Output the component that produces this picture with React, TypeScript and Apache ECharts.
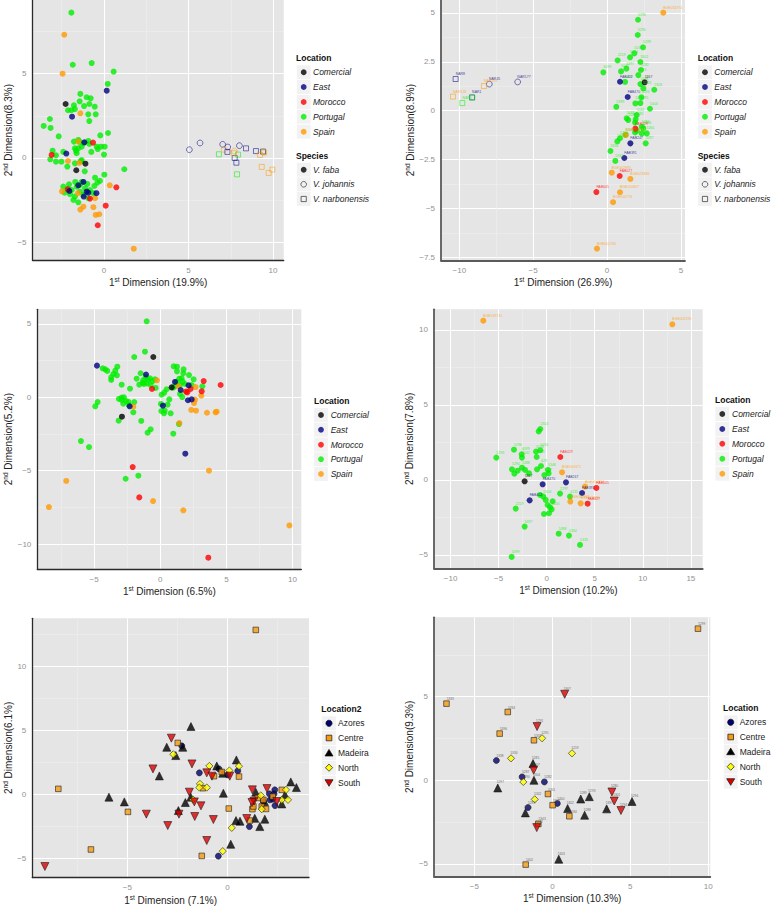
import React, { useEffect, useRef } from "react";
import * as echarts from "echarts";

type P = [number, number, string?];

// Panel A
const aPortugal: P[] = [[-1.93,8.62],[-1.85,5.53],[-0.73,5.63],[0.57,5.12],[0.22,4.39],[-1.4,3.8],[-1.03,3.6],[-0.79,3.54],[-1.44,3.36],[-0.87,3.2],[-1.18,3.08],[-1.78,3.12],[-0.55,3.04],[-1.72,2.9],[-2.13,2.83],[-1.93,2.83],[-0.93,2.59],[-0.49,2.59],[-0.87,2.19],[-3.2,2.31],[-3.57,1.9],[-3.16,1.78],[0.24,1.48],[-0.22,1.34],[-2.68,1.28],[-1.78,0.97],[-1.52,1.07],[-1.46,0.97],[-1.22,0.87],[-0.93,1.01],[-0.87,0.83],[-1.72,0.57],[-1.52,0.57],[-1.62,0.28],[-1.32,0.67],[-1.66,0.43],[-0.43,0.67],[-0.18,0.67],[0.04,0.67],[-0.37,0.53],[-0.75,0.36],[0,0.2],[-3.04,0.43],[-2.41,0.36],[-2.84,0.16],[-3.18,-0.08],[-2.84,-0.22],[-2.52,-0.22],[-2.17,-0.51],[-1.72,-0.32],[-1.32,-0.12],[-1.38,-0.2],[-1.14,-0.79],[1.2,-0.67],[0.02,-0.99],[-0.53,-1.17],[-0.24,-1.36],[-0.39,-1.46],[-0.57,-1.66],[-2.41,-1.7],[-2.07,-1.56],[-1.7,-1.42],[-1.32,-1.42],[-0.99,-1.54],[-2.33,-2.06],[-2.01,-2.15],[-1.72,-2.29],[-1.42,-2],[-1.81,-2.49],[-1.52,-2.63],[-1.12,-1.8],[-0.83,-1.9],[-1.91,-1.9],[-1.62,-1.7],[-1.22,-2.19],[-0.93,-2.39],[-0.63,-2.09],[-1.42,-1.6],[-2.11,-1.8]];
const aEast: P[] = [[0.16,3.99],[-1.89,2.45],[-1.16,0.93],[-2.23,0.26],[-1.52,-1.62],[-1.22,-1.42],[-2.05,-1.96],[-1.03,-2],[-0.93,-2.06],[-0.45,-2.09],[-1.2,-2.29]];
const aComercial: P[] = [[-2.27,3.2],[-1.1,-0.34],[-1.64,-0.73]];
const aMorocco: P[] = [[-0.65,0.91],[-3.1,0.18],[0.73,-1.74],[-2.15,-1.86],[-0.83,-2.41],[0.1,-2.83],[-0.37,-3.99]];
const aSpain: P[] = [[-2.35,7.31],[-2.45,5],[-1.4,2.65],[-1.52,0.97],[-2.13,-0.18],[-1.46,-0.3],[0.34,-1.62],[-2.49,-1.98],[-1.54,-2.09],[-0.53,-2.39],[-0.63,-2.92],[-1.22,-2.89],[-1.4,-3.06],[-0.49,-3.38],[-0.28,-3.34],[1.76,-5.38]];
const aEastJoh: P[] = [[5.05,0.49],[5.68,0.89],[7.02,0.81],[7.32,0.65],[8.01,0.73]];
const aSpainJoh: P[] = [[7.1,0.51],[7.71,0.41]];
const aEastNar: P[] = [[7.3,0.36],[7.73,0],[7.83,-0.28],[8.4,0.57],[8.99,0.41]];
const aComercialNar: P[] = [[9.41,0.38]];
const aPortugalNar: P[] = [[6.8,0.22],[7.93,0.2],[7.87,-0.97]];
const aSpainNar: P[] = [[7.69,0.28],[9.23,0.18],[9.47,0.32],[9.33,-0.53],[9.74,-0.89],[9.96,-0.69]];

// Panel B
const bPortugal: P[] = [[2.1,4.65,"5290"],[2.08,3.87,"5296"],[2.44,3.24,"5289"],[1.85,2.93,"5033"],[1.56,2.73,"5034"],[0.72,2.57,"2219"],[2.26,2.49,"5302"],[1.31,2.15,"5397"],[0.95,2.01,"5047"],[2.3,2.08,"5282"],[2.12,1.82,"5283"],[-0.25,1.96,"4099"],[1.22,1.47,"5292"],[2.26,1.36,"5298"],[2.46,1.14,"5243"],[3.2,1.07,"2303"],[2.33,0.68,"5293"],[1.92,0.37,"5294"],[2.26,0.39,"5295"],[0.63,0.2,"5399"],[2.91,0.1,"5403"],[1.33,-0.39,"5088"],[1.44,-0.48,"5089"],[2.01,-0.22,"5142"],[1.94,-0.44,"5285"],[1.9,-0.61],[2.35,-0.82,"5281"],[2.01,-1.02],[2.35,-1.16],[2.69,-1.16,"5361"],[2.46,-0.9,"5286"],[1.9,-1.11],[2.62,-1.67,"2297"],[1.26,-1.24,"5300"],[0.88,-1.41,"5284"],[0.7,-1.57,"5396"],[0.23,-2.06,"5336"],[0.56,-2.57,"5333"]];
const bEast: P[] = [[0.88,1.48,"FAB402"],[1.4,0.7,"FAB470"],[1.58,-1.67,"FAB247"],[1.17,-2.42,"FAB391"]];
const bComercial: P[] = [[2.55,1.45,"5367"]];
const bMorocco: P[] = [[1.92,-0.92,"FAB429"],[0.86,-3.34,"FAB027"],[-0.72,-4.16,"FAB605"]];
const bSpain: P[] = [[3.81,5.01,"BGE031974"],[1.26,-1.24,"BGE003371"],[0.32,-3.17,"BGE002893"],[1.58,-3.49,"BGE023386"],[0.88,-4.17,"BGE010857"],[0.41,-4.68,"BGE010776"],[-0.68,-7.05,"BGE002190"]];
const bEastJoh: P[] = [[-7.97,1.36,"NAR45"],[-6.05,1.47,"NAR177"]];
const bEastNar: P[] = [[-10.25,1.62,"NAR8"],[-9.14,0.68,"NAR1"]];
const bSpainNar: P[] = [[-8.33,1.26,"NAR193"],[-10.43,0.72,"NAR138"]];
const bPortugalNar: P[] = [[-9.8,0.39,"NAR5"],[-9.12,0.67]];

// Panel C
const cPortugal: P[] = [[-1.03,5.18],[-1.16,3.11],[-1.97,2.75],[-4.36,1.98],[-4.16,1.91],[-4.01,1.8],[-3.25,2.09],[-3.4,1.82],[-3.55,1.59],[-3.28,1.5],[-3.71,1.36],[-3.71,1.18],[-2.92,0.86],[-2.29,0.59],[-2.75,0],[-2.92,-0.02],[-3.13,-0.11],[-2.92,-0.18],[-2.6,-0.25],[-2.42,-0.3],[-1.97,-0.32],[-2.8,-0.43],[-2.37,-0.52],[-4.74,-0.32],[-4.92,-0.61],[-2.04,-1.02],[-3.15,-1.59],[-1.44,-1.61],[-0.73,-2.18],[-0.96,-2.41],[0.98,-2.48],[-6,-2.98],[-5.39,-3.39],[-1.66,-5.34],[-2.62,-5.55],[-1.79,1.27],[-1.49,1.64],[-1.59,0.86],[-1.29,1.18],[-1.11,1.36],[-0.91,1.18],[-0.78,1.3],[-1.03,0.95],[-0.73,0.84],[-1.34,1],[-0.4,1.23],[-0.35,0.64],[-0.58,1.11],[-1.24,0.91],[0.1,0.18],[0.3,0.32],[0.48,0.55],[0.05,-0.45],[0.68,-0.14],[0.55,-0.5],[0.08,-0.93],[0.28,-1.09],[0.78,-1.09],[0.33,-0.91],[1.41,-1.82],[1.01,2.11],[1.26,2.09],[1.76,1.91],[1.26,1.77],[1.74,1.64],[2.17,1.52],[2.52,1.23],[1.44,1.27],[1.61,1.3],[1.24,1.07],[1.69,1.07],[1.49,0.84],[1.87,0.91],[1.11,0.77],[2.37,0.84],[3.18,0.75],[1.49,0.23],[1.66,0.02],[0.98,0.66]];
const cEast: P[] = [[-4.79,2.16],[-1.08,1.55],[1.11,1.05],[1.54,0.5],[2.14,0.82],[2.09,-0.2],[2.37,-0.14],[0.2,-0.57],[-2.32,-0.61],[1.89,-3.84]];
const cComercial: P[] = [[-0.53,2.75],[0.86,0.68],[-2.9,-1.32]];
const cMorocco: P[] = [[3.28,1.11],[4.56,0.84],[-0.63,0.57],[1.94,0.39],[2.29,0.57],[3.13,0.41],[2.04,0.34],[-2.09,-4.75],[-1.59,-6.82],[3.63,-10.93]];
const cSpain: P[] = [[-0.25,1.16],[1.36,0.77],[2.67,0.7],[3.1,0.11],[2.62,-0.16],[2.55,-0.39],[2.34,-0.86],[2.7,-0.91],[3.53,-1.05],[4.18,-1.02],[4.26,-0.98],[-2.04,-0.64],[1.44,-1.75],[3.68,-5],[-7.11,-5.7],[-8.42,-7.48],[-0.55,-7.07],[1.74,-7.7],[9.76,-8.73]];

// Panel D
const dSpain: P[] = [[-6.59,10.62,"BGE019741"],[13.07,10.38,"BGE002190"],[1.6,0.51,"BGE003371"],[3.99,-0.44,"BGE010857"],[2.46,-1.44,"BGE002893"],[3.54,-1.56,"BGE023386"]];
const dMorocco: P[] = [[1.42,1.53,"FAB429"],[5.17,-0.53,"FAB605"],[4.26,-1.58,"FAB027"]];
const dEast: P[] = [[-0.42,-0.29,"FAB470"],[2.01,-0.16,"FAB247"],[3.68,-0.87,"FAB391"],[-1.77,-1.36,"FAB402"]];
const dComercial: P[] = [[-2.29,-0.09,"5367"]];
const dPortugal: P[] = [[-5.24,1.49,"5293"],[-3.4,2.02,"5296"],[-2.6,1.71,"4099"],[-2.57,1.49,"5142"],[-1.11,1.89,"5033"],[-0.66,1.98,"5034"],[-1.04,1.53,"5283"],[-0.83,3.24],[-0.66,3.4,"2303"],[-3.61,0.71,"5290"],[-3.36,0.42],[-3.02,0.62],[-2.57,0.82,"5288"],[-2.25,0.67],[-1.84,0.44],[-1,0.71],[-0.59,0.93,"429"],[0.14,0.67,"5348"],[-0.24,0.33,"5347"],[0.2,0.44],[1.39,-0.91,"2297"],[2.43,-1.11,"5231"],[-0.69,-1],[-0.35,-1.11,"5304"],[-0.1,-1.33],[0.62,-1.42],[0.1,-1.67],[0.35,-1.82],[0.52,-1.96,"5300"],[-0.28,-2.27],[0.24,-2.22],[-3.22,-1.91,"2219"],[-2.29,-3.11,"5397"],[1.25,-3.58,"5398"],[2.32,-3.71,"5334"],[3.47,-4.33,"5333"],[-3.64,-5.13,"5399"]];

// Panel E
const eCentre: P[] = [[1.42,12.84],[-8.45,0.42],[-4.97,-1.38],[-6.82,-4.32],[-2.48,4.01],[-1.28,-4.82],[-1.23,0.47],[-0.67,1.41],[-0.28,1.74],[0.58,1.38],[0.07,-1.12],[1.12,-2.06],[1.25,-1.17],[1.3,-0.96],[1.52,-0.29],[1.72,-0.96],[1.93,-1.15],[1.8,-0.44],[2.72,0.34],[2.27,-0.18]];
const eAzores: P[] = [[-2.28,3.78],[-1.4,1.67],[-0.42,1.98],[0.02,1.51],[0.52,1.82],[1.1,-2.53],[-0.45,-4.84],[2.37,0.34],[2.1,0.03],[2.33,0.03],[2.13,-0.44],[2.38,-0.89],[1.8,-0.57],[2.27,-0.39]];
const eMadeira: P[] = [[-1.82,5.29],[-3.03,3.67],[-2.58,3.02],[-2.23,3.67],[-3.4,1.43],[-5.92,-0.23],[-5.15,-0.6],[-2.1,-0.65],[-1.83,-0.23],[-2.45,-1.28],[-0.2,0.08],[-0.53,2.21],[-0.23,1.64],[0.45,2.68],[0.43,-2.06],[0.63,-2.11],[1.37,-1.88],[1.62,-2.53],[1.87,-1.95],[0.17,-3.91],[1.42,0.16],[1.85,-0.57],[2.72,-0.76],[2.88,-0.05],[3.17,0.96],[3.45,0.52]];
const eNorth: P[] = [[-2.7,3.12],[-0.9,2.21],[0.1,1.85],[0.58,2.19],[-1.37,0.81],[-1.4,0.52],[-1.03,0.52],[-1.72,-0.42],[0.22,-2.63],[-0.23,-4.45],[1.67,-0.1],[1.72,-1.17],[2.72,-0.44],[2.93,0.34],[3.03,-0.44]];
const eSouth: P[] = [[-9.12,-5.65],[-2.8,4.38],[-3.72,1.98],[-1.77,2.37],[-1.03,1.67],[-0.77,1.41],[0.12,1.41],[-1.9,0.16],[-1.65,-0.6],[-1.32,-0.91],[-4.05,-1.56],[-2.42,-1.56],[-1.63,-1.74],[-0.7,-1.98],[-2.98,-2.45],[-1.03,-3.62],[0.97,-1.9],[1.25,0.34],[1.98,0.44],[1.33,-0.55],[1.23,-0.65],[2.47,-0.57]];

// Panel F
const fCentre: P[] = [[9.34,9.06,"5299"],[-6.79,4.58,"5333"],[-2.86,4.08,"5334"],[-3.38,2.79,"5396"],[-1.18,2.39,"5337"],[-0.28,-0.82,"5341"],[0.02,-1.49,"5303"],[1.09,-2.15,"5284"],[-0.9,-2.61,"5343"],[-1.71,-5.04,"5402"]];
const fAzores: P[] = [[-3.59,1.18,"5338"],[-1.94,0.2,"5287"],[-0.51,-0.1,"5282"],[0.32,-1.39,"5300"],[-1.56,-1.63,"5283"]];
const fMadeira: P[] = [[-1.24,1,"5285"],[-1.18,0,"5304"],[-3.5,-0.46,"5297"],[-1.73,-1.95,"5281"],[0.98,-1.69,"5302"],[1.82,-1.12,"5289"],[2.37,-0.98,"5293"],[3.48,-1.71,"5397"],[5.11,-1.27,"5296"],[2.07,-2.09,"5288"],[0.41,-4.72,"5303"]];
const fNorth: P[] = [[-2.65,1.31,"5334"],[-0.66,2.51,"5295"],[1.26,1.61,"5219"],[-1.86,-0.1,"5290"],[-1.13,-1.14,"5342"]];
const fSouth: P[] = [[0.79,5.14,"5307"],[-0.98,3.21,"5291"],[-1.2,0.6,"5307"],[3.82,-0.7,"5280"],[3.97,-1.24,"5301"],[4.4,-1.81,"5294"],[-1,-2.83,"5242"]];

const locations = ["Comercial", "East", "Morocco", "Portugal", "Spain"];
const species = ["V. faba", "V. johannis", "V. narbonensis"];
const regions = ["Azores", "Centre", "Madeira", "North", "South"];

const FONT = '"Liberation Sans", Arial, sans-serif';
const colors: Record<string, string> = {
  Comercial: "#000000", East: "#000080", Morocco: "#ff0000", Portugal: "#00ee00", Spain: "#ff9900",
};
const regionColors: Record<string, string> = {
  Azores: "#000070", Centre: "#f59a12", Madeira: "#000000", North: "#ffff00", South: "#dd0000",
};
const regionSymbols: Record<string, [string, number, number]> = {
  Azores: ["circle", 6, 0], Centre: ["rect", 5.6, 0], Madeira: ["triangle", 8, 0], North: ["diamond", 7.2, 0], South: ["triangle", 8, 180],
};

const panels = [
  { left: 32.5, right: 283.7, top: 0, bottom: 260.3, x: [-4.23, 10.63], y: [-6.07, 9.37], xT: [0, 5, 10], yT: [-5, 0, 5], xM: [-2.5, 2.5, 7.5], yM: [-2.5, 2.5, 7.5], xN: ["1", "st", " Dimension (19.9%)"], yN: ["2", "nd", " Dimension(8.3%)"], dark: true, yGap: 16 },
  { left: 441, right: 685, top: 0, bottom: 260.3, x: [-11.24, 5.28], y: [-7.65, 5.66], xT: [-10, -5, 0, 5], yT: [-7.5, -5, -2.5, 0, 2.5, 5], xM: [-7.5, -2.5, 2.5], yM: [-6.25, -3.75, -1.25, 1.25, 3.75], xN: ["1", "st", " Dimension (26.9%)"], yN: ["2", "nd", " Dimension(8.9%)"], dark: false, yGap: 19 },
  { left: 37.3, right: 301.3, top: 309.3, bottom: 569, x: [-9.3, 10.66], y: [-11.7, 6], xT: [-5, 0, 5, 10], yT: [-10, -5, 0, 5], xM: [-7.5, -2.5, 2.5, 7.5], yM: [-7.5, -2.5, 2.5], xN: ["1", "st", " Dimension (6.5%)"], yN: ["2", "nd", " Dimension(5.2%)"], dark: true, yGap: 17.5 },
  { left: 434, right: 702.7, top: 309.3, bottom: 568.3, x: [-11.72, 16.23], y: [-5.89, 11.38], xT: [-10, -5, 0, 5, 10, 15], yT: [-5, 0, 5, 10], xM: [-7.5, -2.5, 2.5, 7.5, 12.5], yM: [-2.5, 2.5, 7.5], xN: ["1", "st", " Dimension (10.2%)"], yN: ["2", "nd", " Dimension(7.8%)"], dark: false, yGap: 18 },
  { left: 32.3, right: 309, top: 618.3, bottom: 877.7, x: [-9.75, 4.08], y: [-6.51, 13.75], xT: [-5, 0], yT: [-5, 0, 5, 10], xM: [-7.5, -2.5, 2.5], yM: [-2.5, 2.5, 7.5, 12.5], xN: ["1", "st", " Dimension (7.1%)"], yN: ["2", "nd", " Dimension(6.1%)"], dark: true, yGap: 16 },
  { left: 434, right: 710.3, top: 617.3, bottom: 876.3, x: [-7.59, 10.13], y: [-5.74, 9.74], xT: [-5, 0, 5, 10], yT: [-5, 0, 5], xM: [-2.5, 2.5, 7.5], yM: [-2.5, 2.5, 7.5], xN: ["1", "st", " Dimension (10.3%)"], yN: ["2", "nd", " Dimension(9.3%)"], dark: false, yGap: 16.5 },
];

const W = 771;
const H = 906;

function toData(rows: P[]) {
  return rows.map((r) => ({ name: r[2] || "", value: [r[0], r[1]] }));
}

function locSeries(panel: number, rows: P[], loc: string, shape: "filled" | "open" | "square", labelled: boolean) {
  const open = shape !== "filled";
  const c = colors[loc];
  return {
    type: "scatter",
    xAxisIndex: panel * 2 + 1,
    yAxisIndex: panel * 2 + 1,
    name: loc,
    data: toData(rows),
    symbol: shape === "square" ? "rect" : "circle",
    symbolSize: open ? (shape === "square" ? 5 : 5.8) : 6,
    silent: true,
    itemStyle: open
      ? { color: "transparent", borderColor: c, borderWidth: 0.8, opacity: 0.65 }
      : { color: c, opacity: 0.8 },
    label: { show: labelled, formatter: "{b}", position: [3, -4], fontSize: 3.5, fontFamily: FONT, color: c, opacity: 0.75 },
  };
}

function regSeries(panel: number, rows: P[], reg: string, labelled: boolean) {
  const [sym, size, rot] = regionSymbols[reg];
  return {
    type: "scatter",
    xAxisIndex: panel * 2 + 1,
    yAxisIndex: panel * 2 + 1,
    name: reg,
    data: toData(rows),
    symbol: sym,
    symbolSize: size,
    symbolRotate: rot,
    silent: true,
    itemStyle: { color: regionColors[reg], borderColor: "#111", borderWidth: 0.7 },
    label: { show: labelled, formatter: "{b}", position: [3.4, -3], fontSize: 3.2, fontFamily: FONT, color: "#444", opacity: 0.8 },
  };
}

function legendBlock(title: string, x: number, keyX: number, textX: number, titleY: number, rows: number[], names: string[], italic: boolean, draw: (name: string, cx: number, cy: number) => any) {
  const out: any[] = [
    { type: "text", silent: true, style: { text: title, x, y: titleY, fontFamily: FONT, fontSize: 8.5, fontWeight: "bold", fill: "#111", verticalAlign: "middle", align: "left" } },
  ];
  names.forEach((n, i) => {
    out.push({ type: "rect", silent: true, shape: { x: keyX - 6.9, y: rows[i] - 7, width: 13.8, height: 14 }, style: { fill: "#f2f2f2" } });
    out.push(draw(n, keyX, rows[i]));
    out.push({ type: "text", silent: true, style: { text: n, x: textX, y: rows[i], fontFamily: FONT, fontSize: 8.5, fontStyle: italic ? "italic" : "normal", fill: "#222", verticalAlign: "middle", align: "left" } });
  });
  return out;
}

const drawLoc = (n: string, cx: number, cy: number) => ({ type: "circle", silent: true, shape: { cx, cy, r: 2.9 }, style: { fill: colors[n], opacity: 0.8 } });
const drawSpecies = (n: string, cx: number, cy: number) => {
  if (n === "V. faba") return { type: "circle", silent: true, shape: { cx, cy, r: 2.9 }, style: { fill: "#111", opacity: 0.85 } };
  if (n === "V. johannis") return { type: "circle", silent: true, shape: { cx, cy, r: 2.8 }, style: { fill: "none", stroke: "#444", lineWidth: 0.8 } };
  return { type: "rect", silent: true, shape: { x: cx - 2.6, y: cy - 2.6, width: 5.2, height: 5.2 }, style: { fill: "none", stroke: "#444", lineWidth: 0.8 } };
};
const drawReg = (n: string, cx: number, cy: number) => {
  const style = { fill: regionColors[n], stroke: "#111", lineWidth: 0.7 };
  if (n === "Azores") return { type: "circle", silent: true, shape: { cx, cy, r: 3.1 }, style };
  if (n === "Centre") return { type: "rect", silent: true, shape: { x: cx - 2.8, y: cy - 2.8, width: 5.6, height: 5.6 }, style };
  if (n === "Madeira") return { type: "polygon", silent: true, shape: { points: [[cx, cy - 3.6], [cx + 4, cy + 3], [cx - 4, cy + 3]] }, style };
  if (n === "North") return { type: "polygon", silent: true, shape: { points: [[cx, cy - 3.6], [cx + 3.6, cy], [cx, cy + 3.6], [cx - 3.6, cy]] }, style };
  return { type: "polygon", silent: true, shape: { points: [[cx, cy + 3.6], [cx + 4, cy - 3], [cx - 4, cy - 3]] }, style };
};

const tickText = (v: number) => String(v).replace("-", "\u2212");

function buildOption() {
  const grid: any[] = [];
  const xAxis: any[] = [];
  const yAxis: any[] = [];
  panels.forEach((p, i) => {
    grid.push({ left: p.left, top: p.top, width: p.right - p.left, height: p.bottom - p.top, backgroundColor: "#e5e5e5", borderWidth: 0, show: true, containLabel: false });
    const lineColor = p.dark ? "#2a2a2a" : "#5a5a5a";
    const lineW = p.dark ? 1.3 : 1.8;
    const rich = {
      a: { fontSize: 10, color: "#222", fontFamily: FONT, lineHeight: 13 },
      s: { fontSize: 6.5, color: "#222", fontFamily: FONT, verticalAlign: "top", lineHeight: 13 },
    };
    const minor = (idx: number, range: number[], vals: number[]) => ({
      gridIndex: idx, type: "value", min: range[0], max: range[1], show: true,
      axisLine: { show: false }, axisLabel: { show: false },
      axisTick: { show: false, customValues: vals },
      splitLine: { show: true, lineStyle: { color: "#efefef", width: 0.6 } },
    });
    xAxis.push(minor(i, p.x, p.xM));
    yAxis.push(minor(i, p.y, p.yM));
    xAxis.push({
      gridIndex: i, type: "value", min: p.x[0], max: p.x[1], position: "bottom",
      name: `{a|${p.xN[0]}}{s|${p.xN[1]}}{a|${p.xN[2]}}`, nameLocation: "middle", nameGap: 16,
      nameTextStyle: { rich },
      axisLine: { show: true, onZero: false, lineStyle: { color: lineColor, width: lineW } },
      axisTick: { show: false, customValues: p.xT },
      axisLabel: { customValues: p.xT, formatter: tickText, color: "#929292", fontSize: 8, fontFamily: FONT, margin: 6 },
      splitLine: { show: true, lineStyle: { color: "#ffffff", width: 1 } },
    });
    yAxis.push({
      gridIndex: i, type: "value", min: p.y[0], max: p.y[1], position: "left",
      name: `{a|${p.yN[0]}}{s|${p.yN[1]}}{a|${p.yN[2]}}`, nameLocation: "middle", nameGap: p.yGap, nameRotate: 90,
      nameTextStyle: { rich },
      axisLine: { show: true, onZero: false, lineStyle: { color: lineColor, width: lineW } },
      axisTick: { show: false, customValues: p.yT },
      axisLabel: { customValues: p.yT, formatter: tickText, color: "#929292", fontSize: 8, fontFamily: FONT, margin: 6 },
      splitLine: { show: true, lineStyle: { color: "#ffffff", width: 1 } },
    });
  });

  const series: any[] = [
    locSeries(0, aPortugal, "Portugal", "filled", false),
    locSeries(0, aSpain, "Spain", "filled", false),
    locSeries(0, aMorocco, "Morocco", "filled", false),
    locSeries(0, aEast, "East", "filled", false),
    locSeries(0, aComercial, "Comercial", "filled", false),
    locSeries(0, aEastJoh, "East", "open", false),
    locSeries(0, aSpainJoh, "Spain", "open", false),
    locSeries(0, aEastNar, "East", "square", false),
    locSeries(0, aComercialNar, "Comercial", "square", false),
    locSeries(0, aPortugalNar, "Portugal", "square", false),
    locSeries(0, aSpainNar, "Spain", "square", false),

    locSeries(1, bPortugal, "Portugal", "filled", true),
    locSeries(1, bSpain, "Spain", "filled", true),
    locSeries(1, bMorocco, "Morocco", "filled", true),
    locSeries(1, bEast, "East", "filled", true),
    locSeries(1, bComercial, "Comercial", "filled", true),
    locSeries(1, bEastJoh, "East", "open", true),
    locSeries(1, bEastNar, "East", "square", true),
    locSeries(1, bSpainNar, "Spain", "square", true),
    locSeries(1, bPortugalNar, "Portugal", "square", true),

    locSeries(2, cPortugal, "Portugal", "filled", false),
    locSeries(2, cSpain, "Spain", "filled", false),
    locSeries(2, cMorocco, "Morocco", "filled", false),
    locSeries(2, cEast, "East", "filled", false),
    locSeries(2, cComercial, "Comercial", "filled", false),

    locSeries(3, dPortugal, "Portugal", "filled", true),
    locSeries(3, dSpain, "Spain", "filled", true),
    locSeries(3, dMorocco, "Morocco", "filled", true),
    locSeries(3, dEast, "East", "filled", true),
    locSeries(3, dComercial, "Comercial", "filled", true),

    regSeries(4, eAzores, "Azores", false),
    regSeries(4, eMadeira, "Madeira", false),
    regSeries(4, eCentre, "Centre", false),
    regSeries(4, eNorth, "North", false),
    regSeries(4, eSouth, "South", false),

    regSeries(5, fAzores, "Azores", true),
    regSeries(5, fMadeira, "Madeira", true),
    regSeries(5, fCentre, "Centre", true),
    regSeries(5, fNorth, "North", true),
    regSeries(5, fSouth, "South", true),
  ];

  const graphic: any[] = [
    ...legendBlock("Location", 296, 303.7, 313, 58, [72.3, 87, 102, 116.7, 131.7], locations, true, drawLoc),
    ...legendBlock("Species", 296, 303.7, 313, 155.7, [169.7, 184.3, 199], species, true, drawSpecies),
    ...legendBlock("Location", 697.7, 705, 714.3, 58, [72.3, 87, 102, 116.7, 131.7], locations, true, drawLoc),
    ...legendBlock("Species", 697.7, 705, 714.3, 155.7, [169.7, 184.3, 199], species, true, drawSpecies),
    ...legendBlock("Location", 314, 321, 330.7, 400.7, [415, 429.7, 444.7, 459.3, 474], locations, true, drawLoc),
    ...legendBlock("Location", 715, 722.3, 732, 400, [414, 429, 443.7, 458.7, 473.7], locations, true, drawLoc),
    ...legendBlock("Location2", 321.3, 329, 338, 709, [723.3, 738, 753, 767.7, 782.7], regions, false, drawReg),
    ...legendBlock("Location", 723, 730.7, 739.7, 708, [722.3, 737, 751.7, 766.7, 781.7], regions, false, drawReg),
  ];

  return { animation: false, backgroundColor: "#ffffff", grid, xAxis, yAxis, series, graphic };
}

export default function App() {
  const ref = useRef<HTMLDivElement>(null);
  useEffect(() => {
    const chart = echarts.init(ref.current!, undefined, { renderer: "svg", width: W, height: H });
    chart.setOption(buildOption() as any);
    return () => chart.dispose();
  }, []);
  return <div ref={ref} style={{ position: "absolute", left: 0, top: 0, width: W, height: H }} />;
}
